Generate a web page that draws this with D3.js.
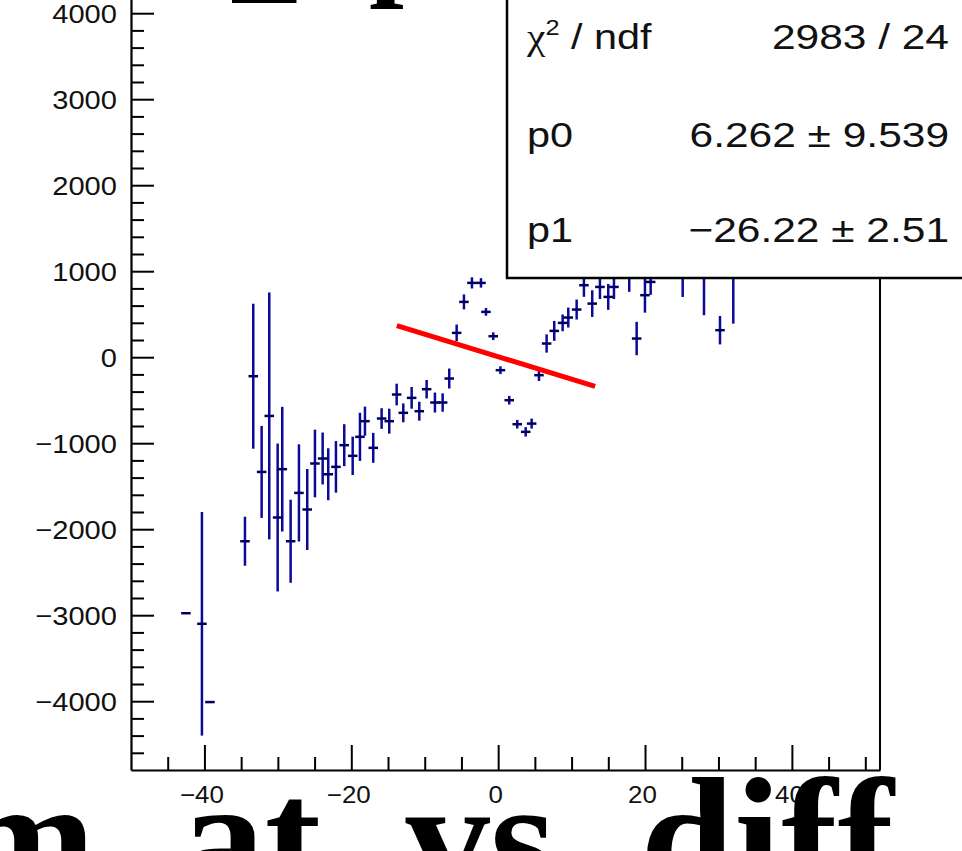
<!DOCTYPE html>
<html>
<head>
<meta charset="utf-8">
<script src="https://cdn.jsdelivr.net/npm/d3@7"></script>
<style>
  html, body { margin: 0; padding: 0; background: #fff; overflow: hidden; }
  svg { display: block; }
</style>
</head>
<body>
<svg id="chart" width="962" height="851"></svg>
<script>
// ---------- data ----------
const xValues = [-42.52, -40.34, -39.25, -34.48, -33.35, -32.21, -31.17, -30.03, -29.40, -28.26,
  -27.13, -26.00, -24.95, -23.90, -23.14, -22.09, -20.96, -19.81, -18.82, -18.14,
  -17.01, -15.87, -14.83, -13.82, -12.92, -11.78, -10.74, -9.74, -8.61, -7.56,
  -6.66, -5.65, -4.66, -3.57, -2.34, -1.66, -0.67, 0.31, 1.51, 2.60,
  3.75, 4.56, 5.56, 6.60, 7.64, 8.78, 9.55, 10.69, 11.68, 12.81,
  13.86, 14.99, 15.77, 17.85, 18.86, 19.99, 20.77, 25.13, 28.03, 30.21, 32.02];
const yValues = [-2977, -3100, -4010, -2140, -221, -1334, -683, -1864, -1302, -2140,
  -1578, -1771, -1236, -1178, -1361, -1275, -1023, -1147, -926, -744,
  -1054, -713, -744, -434, -647, -473, -628, -372, -527, -527,
  -248, 283, 643, 864, 864, 527, 244, -151, -500, -779,
  -868, -772, -209, 159, 306, 399, 461, 554, 837, 623,
  817, 701, 817, 1000, 217, 721, 875, 1100, 1100, 314, 1150];
const yErrors = [0, 1300, 0, 285, 843, 535, 1436, 860, 725, 483,
  565, 471, 393, 302, 302, 300, 244, 223, 280, 169,
  174, 120, 145, 126, 110, 126, 110, 107, 116, 107,
  116, 97, 87, 65, 55, 45, 45, 45, 50, 50,
  55, 58, 68, 106, 116, 97, 116, 116, 135, 155,
  140, 150, 140, 240, 194, 203, 150, 400, 612, 165, 760];
const xHalfWidth = 0.65;

const fitParams = { p0: 6.262, p1: -26.22 };
const fitRange = [-13.8, 13.2];

const statLabels = ["χ² / ndf", "p0", "p1"];
const statValues = ["2983 / 24", "6.262 ± 9.539", "−26.22 ± 2.51"];

const xMajorTicks = [-40, -20, 0, 20, 40];
const yMajorTicks = [-4000, -3000, -2000, -1000, 0, 1000, 2000, 3000, 4000];

const xAxisTitle = "m_at_vs_diff";

// ---------- layout ----------
const svg = d3.select("#chart");
const left = 131, right = 880, bottom = 770;

const x = d3.scaleLinear().domain([-50, 52]).range([left, right]);
const y = d3.scaleLinear().domain([-4800, 5200]).range([bottom, -90]);

const sans = "'Liberation Sans', Arial, Helvetica, sans-serif";
const serif = "'Liberation Serif', 'Times New Roman', serif";

// ---------- data marks ----------
const pts = xValues.map((xv, i) => ({ x: xv, y: yValues[i], e: yErrors[i] }));
const dataG = svg.append("g");
const markColor = "#0a0a96";

dataG.selectAll("line.v").data(pts.filter(d => d.e > 0)).join("line")
  .attr("class", "v")
  .attr("x1", d => x(d.x)).attr("x2", d => x(d.x))
  .attr("y1", d => y(d.y + d.e)).attr("y2", d => y(d.y - d.e))
  .attr("stroke", markColor).attr("stroke-width", 2.5);

dataG.selectAll("line.h").data(pts).join("line")
  .attr("class", "h")
  .attr("x1", d => x(d.x - xHalfWidth)).attr("x2", d => x(d.x + xHalfWidth))
  .attr("y1", d => y(d.y)).attr("y2", d => y(d.y))
  .attr("stroke", "#000060").attr("stroke-width", 2.5);

// fit line
const fitPts = fitRange.map(v => [v, fitParams.p0 + fitParams.p1 * v]);
svg.append("path")
  .attr("d", d3.line().x(d => x(d[0])).y(d => y(d[1]))(fitPts))
  .attr("stroke", "#ff0000").attr("stroke-width", 5).attr("fill", "none");

// ---------- frame / axes ----------
svg.append("line").attr("x1", right).attr("x2", right).attr("y1", -100).attr("y2", bottom)
  .attr("stroke", "#000").attr("stroke-width", 2);

// y minor
const yMinor = d3.range(-4600, 5001, 200).filter(v => v % 1000 !== 0);
svg.append("g").attr("transform", `translate(${left},0)`)
  .call(d3.axisLeft(y).tickValues(yMinor).tickSize(-13).tickSizeOuter(0).tickFormat(""))
  .call(g => g.select(".domain").remove())
  .call(g => g.selectAll("line").attr("stroke-width", 2));

// y major
const yAxisG = svg.append("g").attr("transform", `translate(${left},0)`)
  .call(d3.axisLeft(y).tickValues(yMajorTicks).tickSize(-23).tickSizeOuter(0).tickPadding(13)
    .tickFormat(d3.format("d")));
yAxisG.select(".domain").attr("stroke-width", 2.2);
yAxisG.selectAll("line").attr("stroke-width", 2);
yAxisG.selectAll("text")
  .attr("font-family", sans).attr("font-size", 26).attr("fill", "#111")
  .attr("x", null).attr("dy", null)
  .attr("transform", "translate(-14,9.5) scale(1.12,1)");
yAxisG.selectAll("text").text(d => d3.format("d")(d).replace("-", "−"));

// x minor
const xMinor = d3.range(-45, 51, 5).filter(v => v % 20 !== 0);
svg.append("g").attr("transform", `translate(0,${bottom})`)
  .call(d3.axisBottom(x).tickValues(xMinor).tickSize(-13).tickSizeOuter(0).tickFormat(""))
  .call(g => g.select(".domain").remove())
  .call(g => g.selectAll("line").attr("stroke-width", 2));

// x major
const xAxisG = svg.append("g").attr("transform", `translate(0,${bottom})`)
  .call(d3.axisBottom(x).tickValues(xMajorTicks).tickSize(-25).tickSizeOuter(0)
    .tickFormat(d3.format("d")));
xAxisG.select(".domain").attr("stroke-width", 2.2);
xAxisG.selectAll("line").attr("stroke-width", 2);
xAxisG.selectAll("text")
  .attr("font-family", sans).attr("font-size", 24).attr("fill", "#111")
  .attr("y", null).attr("dy", null)
  .attr("transform", "translate(-3,33) scale(1.08,1)");
xAxisG.selectAll("text").text(d => d3.format("d")(d).replace("-", "−"));

// ---------- stats box ----------
const boxG = svg.append("g");
boxG.append("rect").attr("x", 507).attr("y", -10).attr("width", 470).attr("height", 288)
  .attr("fill", "#fff").attr("stroke", "#000").attr("stroke-width", 2.5);
const rowBase = [49, 147, 242];
statLabels.forEach((lab, i) => {
  const t = boxG.append("text")
    .attr("transform", `translate(527,${rowBase[i]}) scale(1.15,1)`)
    .attr("font-family", sans).attr("font-size", 36).attr("fill", "#111");
  if (i === 0) {
    t.append("tspan").attr("font-family", serif).text("χ");
    t.append("tspan").attr("font-size", 22).attr("dy", -14).text("2");
    t.append("tspan").attr("dy", 14).text(" / ndf");
  } else {
    t.text(lab);
  }
  boxG.append("text")
    .attr("transform", `translate(949,${rowBase[i]}) scale(1.18,1)`)
    .attr("text-anchor", "end")
    .attr("font-family", sans).attr("font-size", 36).attr("fill", "#111")
    .text(statValues[i]);
});

// ---------- big titles ----------
svg.append("text")
  .attr("x", -45).attr("y", 895)
  .attr("font-family", serif).attr("font-weight", "bold").attr("font-size", 169)
  .attr("fill", "#000")
  .text(xAxisTitle);

// fragments of the top title (cut off by the picture edge)
svg.append("text")
  .attr("x", 233).attr("y", -14)
  .attr("font-family", serif).attr("font-weight", "bold").attr("font-size", 125)
  .attr("fill", "#000").text("_");
svg.append("text")
  .attr("x", 369).attr("y", -18)
  .attr("font-family", serif).attr("font-weight", "bold").attr("font-size", 125)
  .attr("fill", "#000").text("p");
</script>
</body>
</html>
